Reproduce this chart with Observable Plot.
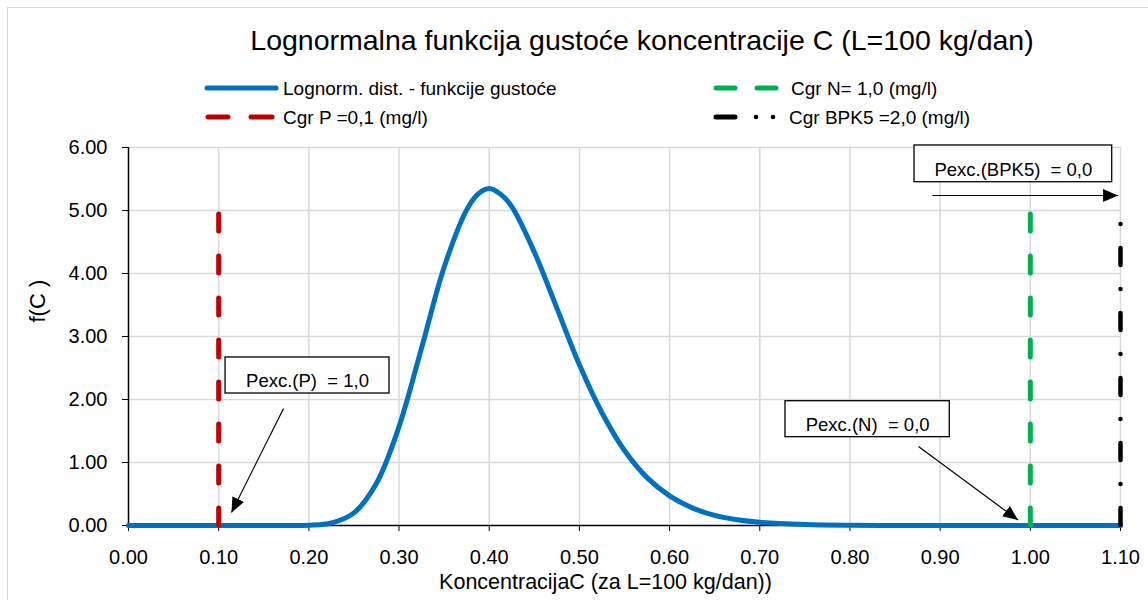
<!DOCTYPE html>
<html><head><meta charset="utf-8">
<script src="https://cdn.jsdelivr.net/npm/d3@7"></script>
<script src="https://cdn.jsdelivr.net/npm/@observablehq/plot@0.6"></script>
<style>
body{margin:0;background:#fff;font-family:"Liberation Sans",Arial,sans-serif;}
#wrap{position:relative;width:1148px;height:600px;overflow:hidden;background:#fff;}
#frame{position:absolute;left:7px;top:7px;width:1200px;height:700px;border:1.5px solid #d9d9d9;box-sizing:border-box;}
#title{position:absolute;left:0;width:1284px;text-align:center;top:24px;font-size:28.5px;color:#000;white-space:nowrap;}
#legend{position:absolute;left:0;top:0;}
#chart{position:absolute;left:0;top:137px;}
</style>
</head><body>
<div id="wrap">
  <div id="frame"></div>
  <div id="title"></div>
  <svg id="legend" width="1148" height="137"></svg>
  <div id="chart"></div>
</div>
<script>
// ---- data ----
const titleText = "Lognormalna funkcija gustoće koncentracije C (L=100 kg/dan)";
const xAxisTitle = "KoncentracijaC (za L=100 kg/dan))";
const yAxisTitle = "f(C )";
const legendLabels = ["Lognorm. dist. - funkcije gustoće", "Cgr N= 1,0 (mg/l)", "Cgr P =0,1 (mg/l)", "Cgr BPK5 =2,0 (mg/l)"];
const xTicks = [0, 0.1, 0.2, 0.3, 0.4, 0.5, 0.6, 0.7, 0.8, 0.9, 1.0, 1.1];
const yTicks = [0, 1, 2, 3, 4, 5, 6];
// density curve
const concX = [0, 0.05, 0.10, 0.15, 0.175, 0.20, 0.225, 0.25, 0.275, 0.30, 0.325, 0.35, 0.375, 0.3875, 0.40, 0.4125, 0.425, 0.45, 0.475, 0.50, 0.525, 0.55, 0.575, 0.60, 0.625, 0.65, 0.675, 0.70, 0.75, 0.80, 0.85, 0.90, 1.00, 1.10];
const densY = [0, 0, 0, 0, 0.0002, 0.004, 0.04, 0.20, 0.67, 1.57, 2.82, 4.10, 5.01, 5.26, 5.35, 5.26, 5.06, 4.34, 3.45, 2.55, 1.79, 1.19, 0.76, 0.47, 0.28, 0.16, 0.09, 0.05, 0.016, 0.004, 0.001, 0, 0, 0];
// limit lines
const limitX = [0.1, 1.0, 1.1];
const limitTop = [5, 5, 5];
// annotations (data coords)
const annLabels = ["Pexc.(P)\u00a0 = 1,0", "Pexc.(N)\u00a0 = 0,0", "Pexc.(BPK5)\u00a0 = 0,0"];
const annBoxX1 = [0.1076, 0.7285, 0.8716];
const annBoxX2 = [0.2894, 0.9107, 1.0908];
const annBoxY1 = [2.095, 1.402, 5.449];
const annBoxY2 = [2.667, 1.973, 6.032];
const annTextY = [2.286, 1.587, 5.635];
const arrX1 = [0.1719, 0.876, 0.8915];
const arrY1 = [1.857, 1.254, 5.238];
const arrX2 = [0.1142, 0.9864, 1.0973];
const arrY2 = [0.206, 0.087, 5.238];

// ---- build ----
const curve = concX.map((x, i) => ({x, y: densY[i]}));
const boxes = annLabels.map((t, i) => ({x1: annBoxX1[i], x2: annBoxX2[i], y1: annBoxY1[i], y2: annBoxY2[i], t, tx: (annBoxX1[i] + annBoxX2[i]) / 2, ty: annTextY[i]}));
const arrows = arrX1.map((x1, i) => ({x1, y1: arrY1[i], x2: arrX2[i], y2: arrY2[i]}));
const lim = (i) => [{x: limitX[i], y1: 0, y2: limitTop[i]}];

document.getElementById("title").textContent = titleText;

// legend
const lg = d3.select("#legend");
const ly1 = 88, ly2 = 117;
lg.append("line").attr("x1", 207).attr("x2", 276).attr("y1", ly1).attr("y2", ly1).attr("stroke", "#0070C0").attr("stroke-width", 5).attr("stroke-linecap", "round");
[[716, 735], [757, 776]].forEach(([a, b]) => lg.append("line").attr("x1", a).attr("x2", b).attr("y1", ly1).attr("y2", ly1).attr("stroke", "#00B050").attr("stroke-width", 5).attr("stroke-linecap", "round"));
[[208, 228], [251, 272]].forEach(([a, b]) => lg.append("line").attr("x1", a).attr("x2", b).attr("y1", ly2).attr("y2", ly2).attr("stroke", "#C00000").attr("stroke-width", 5).attr("stroke-linecap", "round"));
lg.append("line").attr("x1", 716).attr("x2", 735).attr("y1", ly2).attr("y2", ly2).attr("stroke", "#000").attr("stroke-width", 5).attr("stroke-linecap", "round");
[756, 773].forEach(cx => lg.append("circle").attr("cx", cx).attr("cy", ly2).attr("r", 2.3).attr("fill", "#000"));
const lpos = [[283, ly1], [791, ly1], [283, ly2], [789, ly2]];
legendLabels.forEach((t, i) => lg.append("text").attr("x", lpos[i][0]).attr("y", lpos[i][1]).attr("dy", "0.35em").attr("font-size", 19).attr("fill", "#000").text(t));

const fmt = d3.format(".2f");
const chart = Plot.plot({
  width: 1148, height: 463,
  marginTop: 10, marginBottom: 75, marginLeft: 128, marginRight: 28,
  style: {fontFamily: '"Liberation Sans", Arial, sans-serif', fontSize: "20px", color: "#000", background: "transparent", overflow: "visible"},
  x: {domain: [0, 1.1], ticks: xTicks, tickFormat: fmt, tickSize: 6, tickPadding: 18, label: null},
  y: {domain: [0, 6], ticks: yTicks, tickFormat: fmt, tickSize: 6, tickPadding: 15, label: null},
  marks: [
    Plot.ruleX(xTicks.slice(1), {stroke: "#d9d9d9", strokeWidth: 1.5}),
    Plot.ruleY(yTicks.slice(1), {stroke: "#d9d9d9", strokeWidth: 1.5}),
    Plot.ruleY([0], {stroke: "#000", strokeWidth: 1.5}),
    Plot.ruleX([0], {stroke: "#000", strokeWidth: 1.5}),
    Plot.line(curve, {x: "x", y: "y", stroke: "#0070C0", strokeWidth: 5, curve: "catmull-rom", strokeLinejoin: "round"}),
    Plot.ruleX(lim(0), {x: "x", y1: "y1", y2: "y2", stroke: "#C00000", strokeWidth: 5, strokeDasharray: "17,25", strokeLinecap: "round"}),
    Plot.ruleX(lim(1), {x: "x", y1: "y1", y2: "y2", stroke: "#00B050", strokeWidth: 5, strokeDasharray: "17,25", strokeLinecap: "round"}),
    Plot.ruleX(lim(2), {x: "x", y1: "y1", y2: "y2", stroke: "#000", strokeWidth: 4.5, strokeDasharray: "17,24,0.01,24", strokeLinecap: "round"}),
    Plot.rect(boxes, {x1: "x1", x2: "x2", y1: "y1", y2: "y2", fill: "#fff", stroke: "#000", strokeWidth: 1.3}),
    Plot.text(boxes, {x: "tx", y: "ty", text: "t", fontSize: 18.5, fill: "#000", textAnchor: "middle"}),
    Plot.link(arrows, {x1: "x1", y1: "y1", x2: "x2", y2: "y2", stroke: "#000", strokeWidth: 1.2}),
    Plot.text([xAxisTitle], {frameAnchor: "bottom", dx: -19, dy: 63, fontSize: 21.5, fill: "#000"}),
    Plot.text([yAxisTitle], {frameAnchor: "left", dx: -91, dy: -14, rotate: -90, fontSize: 22, fill: "#000"})
  ]
});
// filled arrowheads on the annotation links
const ns = "http://www.w3.org/2000/svg";
const defs = document.createElementNS(ns, "defs");
const marker = document.createElementNS(ns, "marker");
marker.setAttribute("id", "ah");
marker.setAttribute("viewBox", "0 0 15 13");
marker.setAttribute("refX", 15); marker.setAttribute("refY", 6.5);
marker.setAttribute("markerWidth", 15); marker.setAttribute("markerHeight", 13);
marker.setAttribute("markerUnits", "userSpaceOnUse");
marker.setAttribute("orient", "auto");
const mp = document.createElementNS(ns, "path");
mp.setAttribute("d", "M0,0L15,6.5L0,13Z"); mp.setAttribute("fill", "#000");
marker.appendChild(mp); defs.appendChild(marker);
chart.insertBefore(defs, chart.firstChild);
chart.querySelectorAll('g[aria-label="link"] path, g[aria-label="link"] line').forEach(p => p.setAttribute("marker-end", "url(#ah)"));
document.getElementById("chart").appendChild(chart);
</script>
</body></html>
